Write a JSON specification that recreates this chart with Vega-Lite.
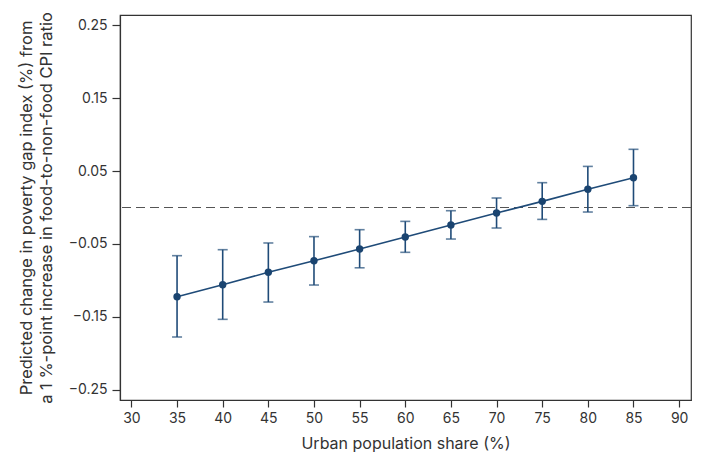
{
  "$schema": "https://vega.github.io/schema/vega-lite/v6.json",
  "width": 571,
  "height": 385,
  "autosize": {"type": "none"},
  "padding": {"left": 120, "top": 15, "right": 12, "bottom": 59},
  "background": "white",
  "config": {
    "view": {"stroke": "#333333", "strokeWidth": 1.2},
    "font": "Inter",
    "axis": {
      "domainColor": "#333333",
      "domainWidth": 1.2,
      "tickColor": "#333333",
      "tickWidth": 1.2,
      "grid": false,
      "labelFont": "Inter",
      "labelFontSize": 14,
      "labelColor": "#333333",
      "titleFont": "Inter",
      "titleFontSize": 16,
      "titleFontWeight": "normal",
      "titleColor": "#333333"
    }
  },
  "data": {
    "values": [
      {"share": 35, "p": -0.1222, "lo": -0.1774, "hi": -0.0660},
      {"share": 40, "p": -0.1058, "lo": -0.1532, "hi": -0.0578},
      {"share": 45, "p": -0.0888, "lo": -0.1295, "hi": -0.0486},
      {"share": 50, "p": -0.0730, "lo": -0.1062, "hi": -0.0399},
      {"share": 55, "p": -0.0569, "lo": -0.0826, "hi": -0.0304},
      {"share": 60, "p": -0.0404, "lo": -0.0614, "hi": -0.0190},
      {"share": 65, "p": -0.0240, "lo": -0.0432, "hi": -0.0044},
      {"share": 70, "p": -0.0075, "lo": -0.0281, "hi": 0.0130},
      {"share": 75, "p": 0.0084, "lo": -0.0163, "hi": 0.0340},
      {"share": 80, "p": 0.0249, "lo": -0.0062, "hi": 0.0563},
      {"share": 85, "p": 0.0408, "lo": 0.0025, "hi": 0.0797}
    ]
  },
  "encoding": {
    "x": {
      "field": "share",
      "type": "quantitative",
      "scale": {"domain": [28.75, 91.3], "nice": false, "zero": false},
      "axis": {
        "title": "Urban population share (%)",
        "values": [30, 35, 40, 45, 50, 55, 60, 65, 70, 75, 80, 85, 90],
        "tickSize": 7,
        "labelPadding": 4,
        "titlePadding": 10
      }
    }
  },
  "layer": [
    {
      "mark": {"type": "rule", "color": "#555555", "strokeDash": [9, 5], "strokeWidth": 1.2},
      "encoding": {
        "x": null,
        "y": {
          "datum": 0,
          "type": "quantitative",
          "scale": {"domain": [-0.2637, 0.2637], "nice": false, "zero": false},
          "axis": {
            "title": ["Predicted change in poverty gap index (%) from", "a 1 %-point increase in food-to-non-food CPI ratio"],
            "titleFontSize": 16.5,
            "titleLineHeight": 20,
            "values": [-0.25, -0.15, -0.05, 0.05, 0.15, 0.25],
            "format": ".2f",
            "tickSize": 8,
            "labelPadding": 5,
            "titlePadding": 14
          }
        }
      }
    },
    {
      "mark": {"type": "rule", "color": "#1f4b78", "strokeWidth": 1.6},
      "encoding": {
        "y": {"field": "lo", "type": "quantitative"},
        "y2": {"field": "hi"}
      }
    },
    {
      "mark": {"type": "tick", "orient": "horizontal", "color": "#1f4b78", "size": 10, "thickness": 1.6},
      "encoding": {"y": {"field": "lo", "type": "quantitative"}}
    },
    {
      "mark": {"type": "tick", "orient": "horizontal", "color": "#1f4b78", "size": 10, "thickness": 1.6},
      "encoding": {"y": {"field": "hi", "type": "quantitative"}}
    },
    {
      "mark": {"type": "line", "color": "#1f4b78", "strokeWidth": 1.6},
      "encoding": {"y": {"field": "p", "type": "quantitative"}}
    },
    {
      "mark": {"type": "point", "filled": true, "opacity": 1, "color": "#1a4470", "size": 55},
      "encoding": {"y": {"field": "p", "type": "quantitative"}}
    }
  ]
}
